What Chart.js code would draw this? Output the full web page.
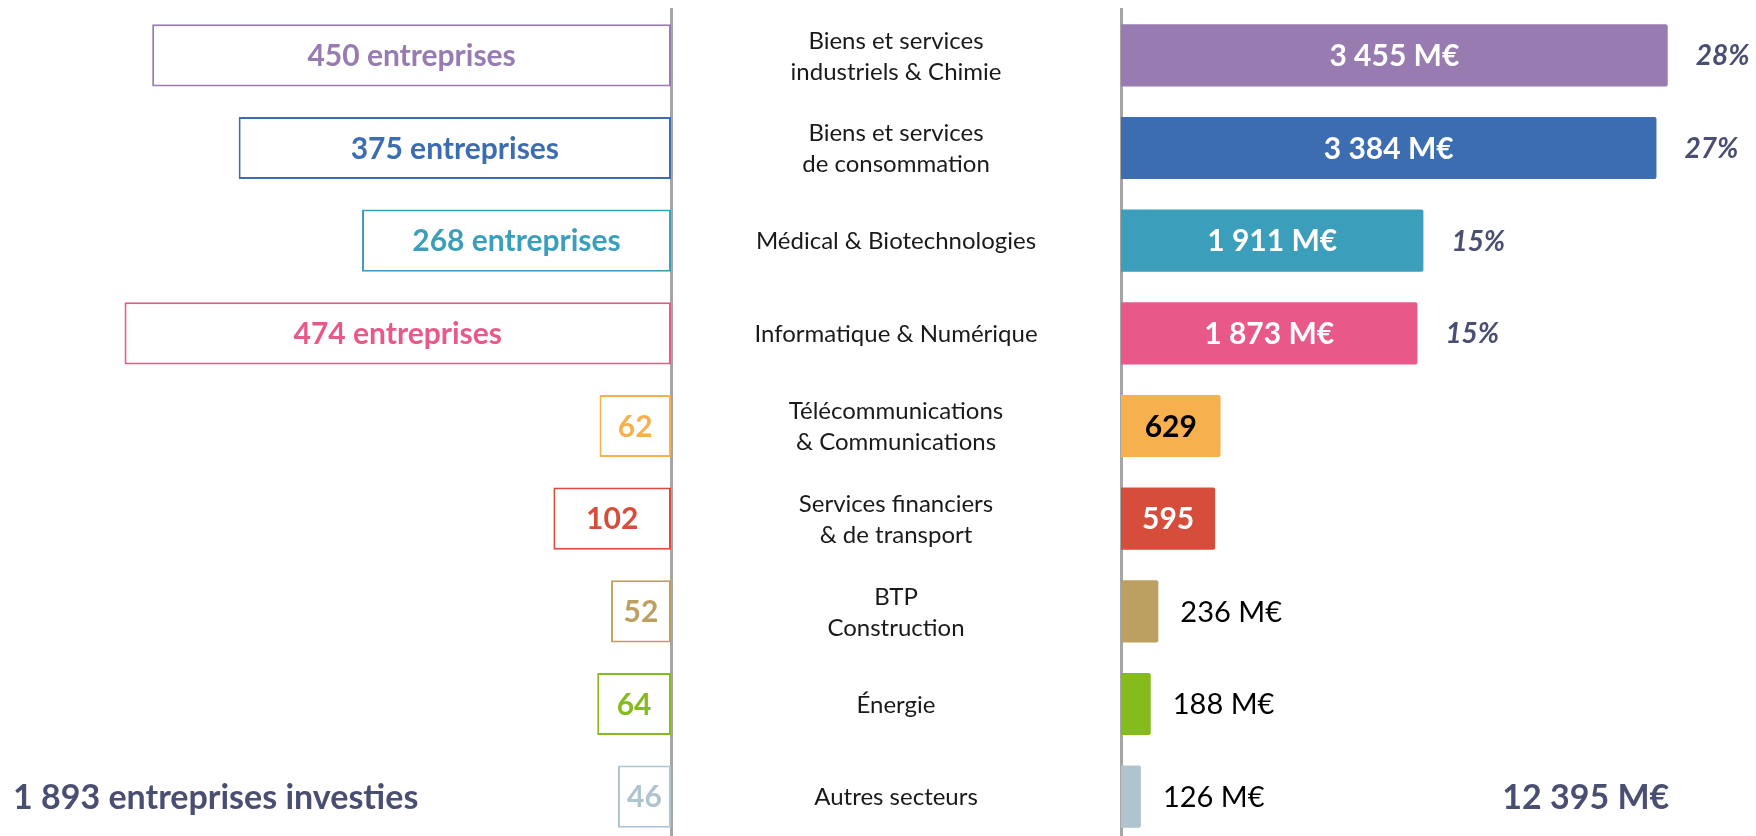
<!DOCTYPE html>
<html><head><meta charset="utf-8">
<script src="https://cdn.jsdelivr.net/npm/chart.js@4.4.1/dist/chart.umd.min.js"></script>
<style>
html,body{margin:0;padding:0;background:#fff;overflow:hidden;width:1756px;height:836px;}
#left{position:absolute;left:0;top:0;width:673px;height:850px;}
#right{position:absolute;left:671px;top:0;width:1085px;height:850px;}
</style></head><body>
<div id="left"><canvas id="cl"></canvas></div>
<div id="right"><canvas id="cr"></canvas></div>
<script>
// ---- data ----
const categories = [
  ['Biens et services', 'industriels & Chimie'],
  ['Biens et services', 'de consommation'],
  ['Médical & Biotechnologies'],
  ['Informatique & Numérique'],
  ['Télécommunications', '& Communications'],
  ['Services financiers', '& de transport'],
  ['BTP', 'Construction'],
  ['Énergie'],
  ['Autres secteurs']
];
const companies = [450, 375, 268, 474, 62, 102, 52, 64, 46];
const amounts = [3455, 3384, 1911, 1873, 629, 595, 236, 188, 126];
const shares = [28, 27, 15, 15, null, null, null, null, null];
const totalCompaniesLabel = '1 893 entreprises investies';
const totalAmountLabel = '12 395 M€';

// ---- styles ----
const colors = ['#977BB1', '#3B6DB0', '#3B9EBB', '#E8598A', '#F6B14E', '#D64D3B', '#BBA062', '#86BB1E', '#AFC4CE'];
const rightLabelStyle = ['inUnit', 'inUnit', 'inUnit', 'inUnit', 'inDark', 'in', 'out', 'out', 'out'];
const FONT = 'Lato, "Open Sans", sans-serif';
const TOTAL_COLOR = '#4A4E72';
const AXIS_COLOR = '#A6A6A6';

const fmt = n => String(n).replace(/\B(?=(\d{3})+(?!\d))/g, ' ');

const leftLabels = {
  id: 'leftLabels',
  afterDatasetsDraw(chart) {
    const ctx = chart.ctx;
    const meta = chart.getDatasetMeta(0);
    ctx.save();
    ctx.textBaseline = 'middle';
    ctx.textAlign = 'center';
    ctx.font = 'bold 30px ' + FONT;
    meta.data.forEach((bar, i) => {
      const txt = i < 4 ? fmt(companies[i]) + ' entreprises' : fmt(companies[i]);
      ctx.fillStyle = colors[i];
      ctx.fillText(txt, (bar.x + bar.base) / 2, bar.y + 1);
    });
    // total
    const ys = chart.scales.y;
    ctx.textAlign = 'left';
    ctx.fillStyle = TOTAL_COLOR;
    ctx.font = 'bold 34px ' + FONT;
    ctx.fillText(totalCompaniesLabel, 13, ys.getPixelForValue(categories.length - 1) + 1);
    ctx.restore();
  }
};

const rightLabels = {
  id: 'rightLabels',
  afterDatasetsDraw(chart) {
    const ctx = chart.ctx;
    const meta = chart.getDatasetMeta(0);
    const ys = chart.scales.y;
    const ca = chart.chartArea;
    ctx.save();
    ctx.textBaseline = 'middle';
    meta.data.forEach((bar, i) => {
      const st = rightLabelStyle[i];
      const cx = (bar.x + bar.base) / 2;
      if (st === 'inUnit' || st === 'in' || st === 'inDark') {
        ctx.textAlign = 'center';
        ctx.font = 'bold 30px ' + FONT;
        ctx.fillStyle = st === 'inDark' ? '#000' : '#fff';
        const txt = st === 'inUnit' ? fmt(amounts[i]) + ' M€' : fmt(amounts[i]);
        ctx.fillText(txt, cx, bar.y + 1);
      } else {
        ctx.textAlign = 'left';
        ctx.font = '29px ' + FONT;
        ctx.fillStyle = '#000';
        ctx.fillText(fmt(amounts[i]) + ' M€', bar.x + 22, bar.y + 1);
      }
      if (shares[i] != null) {
        ctx.textAlign = 'left';
        ctx.font = 'italic bold 28px ' + FONT;
        ctx.fillStyle = TOTAL_COLOR;
        ctx.fillText(shares[i] + '%', bar.x + 28, bar.y + 1);
      }
    });
    // category labels centred in the gap between the two axes
    const midX = ys.left + (ca.left - ys.left) / 2;
    ctx.textAlign = 'center';
    ctx.fillStyle = '#1A1A1A';
    ctx.font = '24px ' + FONT;
    const lh = 31;
    categories.forEach((lines, i) => {
      const y = ys.getPixelForValue(i);
      const y0 = y - (lines.length - 1) * lh / 2;
      lines.forEach((l, k) => ctx.fillText(l, midX, y0 + k * lh + 1));
    });
    // total amount
    ctx.font = 'bold 34px ' + FONT;
    ctx.fillStyle = TOTAL_COLOR;
    ctx.fillText(totalAmountLabel, ca.left + (ca.right - ca.left) * 0.732, ys.getPixelForValue(categories.length - 1) + 1);
    ctx.restore();
  }
};

const common = {
  indexAxis: 'y',
  responsive: true,
  maintainAspectRatio: false,
  animation: false,
  plugins: { legend: { display: false }, tooltip: { enabled: false } },
  layout: { padding: { top: 9, bottom: 7, left: 0, right: 0 } }
};

new Chart(document.getElementById('cl'), {
  type: 'bar',
  data: {
    labels: categories.map(c => c.join(' ')),
    datasets: [{
      data: companies,
      backgroundColor: '#fff',
      borderColor: colors,
      borderWidth: 2,
      borderSkipped: false,
      categoryPercentage: 1,
      barPercentage: 0.67
    }]
  },
  options: Object.assign({}, common, {
    scales: {
      x: { reverse: true, min: 0, max: 582, display: false },
      y: {
        position: 'right',
        grid: { display: false },
        ticks: { display: false },
        border: { display: true, color: AXIS_COLOR, width: 3 },
        afterFit: s => { s.width = 2; }
      }
    }
  }),
  plugins: [leftLabels]
});

new Chart(document.getElementById('cr'), {
  type: 'bar',
  data: {
    labels: categories.map(c => c.join(' ')),
    datasets: [{
      data: amounts,
      backgroundColor: colors,
      borderWidth: 0,
      borderRadius: 2,
      borderSkipped: 'start',
      categoryPercentage: 1,
      barPercentage: 0.67
    }]
  },
  options: Object.assign({}, common, {
    scales: {
      x: { min: 0, max: 4013, display: false },
      y: {
        position: 'left',
        grid: { display: false },
        ticks: { display: false },
        border: { display: true, color: AXIS_COLOR, width: 3 },
        afterFit: s => { s.width = 450; }
      }
    }
  }),
  plugins: [rightLabels]
});
</script>
</body></html>
